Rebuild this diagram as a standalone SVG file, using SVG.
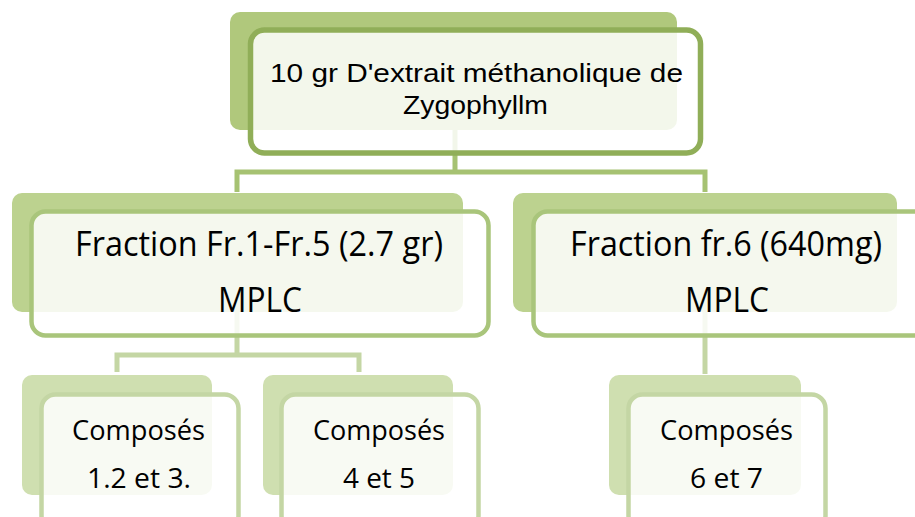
<svg xmlns="http://www.w3.org/2000/svg" width="915" height="517" viewBox="0 0 915 517">
<style>
text{font-family:"Open Sans","Noto Sans","Liberation Sans",sans-serif;fill:#000;text-anchor:middle}
.t1{font-family:"Liberation Sans",Arial,sans-serif;font-size:26px}
.t2{font-size:34px}
.t3{font-size:27px}
.c1{fill:none;stroke:#a6c272;stroke-width:5}
.c2{fill:none;stroke:#c4d6a4;stroke-width:5}
.b1{fill:#b0c87c}
.f1{fill:#fff;fill-opacity:0.85;stroke:#90ae58;stroke-width:5.5}
.b2{fill:#bcd28f}
.f2{fill:#fff;fill-opacity:0.85;stroke:#a9c57b;stroke-width:4.5}
.b3{fill:#cfdfb0}
.f3{fill:#fff;fill-opacity:0.85;stroke:#c4d6a4;stroke-width:4.5}
</style>
<g id="connectors">
<path class="c1" d="M455,130 V172 M237,192 V172 H705 V192"/>
<path class="c2" d="M237,312 V355 M117,372 V355 H359 V372"/>
<path class="c2" d="M705,312 V374"/>
</g>
<g id="node-top">
<rect class="b1" x="230" y="12" width="447" height="118" rx="10"/>
<rect class="f1" x="250.5" y="30" width="450" height="123" rx="14"/>
<text class="t1" x="476.5" y="82" textLength="413" lengthAdjust="spacingAndGlyphs">10 gr D'extrait méthanolique de</text>
<text class="t1" x="475.5" y="114" textLength="145" lengthAdjust="spacingAndGlyphs">Zygophyllm</text>
</g>
<g id="node-fr1-5">
<rect class="b2" x="12" y="193" width="451" height="119" rx="10"/>
<rect class="f2" x="31.5" y="211.5" width="457" height="124" rx="14"/>
<text class="t2" x="259" y="256" textLength="368" lengthAdjust="spacingAndGlyphs">Fraction Fr.1-Fr.5 (2.7 gr)</text>
<text class="t2" x="260" y="312" textLength="84" lengthAdjust="spacingAndGlyphs">MPLC</text>
</g>
<g id="node-fr6">
<rect class="b2" x="513" y="193" width="384" height="119" rx="10"/>
<rect class="f2" x="533.5" y="211.5" width="457" height="124" rx="14"/>
<text class="t2" x="726" y="256" textLength="312" lengthAdjust="spacingAndGlyphs">Fraction fr.6 (640mg)</text>
<text class="t2" x="727" y="312" textLength="84" lengthAdjust="spacingAndGlyphs">MPLC</text>
</g>
<g id="node-c123">
<rect class="b3" x="22" y="375" width="190" height="120" rx="10"/>
<rect class="f3" x="41.5" y="394.5" width="197" height="135" rx="14"/>
<text class="t3" x="138.5" y="440" textLength="133" lengthAdjust="spacingAndGlyphs">Composés</text>
<text class="t3" x="139" y="488" textLength="104" lengthAdjust="spacingAndGlyphs">1.2 et 3.</text>
</g>
<g id="node-c45">
<rect class="b3" x="263" y="375" width="190" height="120" rx="10"/>
<rect class="f3" x="281.5" y="394.5" width="197" height="135" rx="14"/>
<text class="t3" x="379" y="440" textLength="132" lengthAdjust="spacingAndGlyphs">Composés</text>
<text class="t3" x="379" y="488" textLength="72" lengthAdjust="spacingAndGlyphs">4 et 5</text>
</g>
<g id="node-c67">
<rect class="b3" x="609" y="375" width="192" height="120" rx="10"/>
<rect class="f3" x="628.5" y="394.5" width="197" height="135" rx="14"/>
<text class="t3" x="726.5" y="440" textLength="133" lengthAdjust="spacingAndGlyphs">Composés</text>
<text class="t3" x="726.5" y="488" textLength="73" lengthAdjust="spacingAndGlyphs">6 et 7</text>
</g>
</svg>
